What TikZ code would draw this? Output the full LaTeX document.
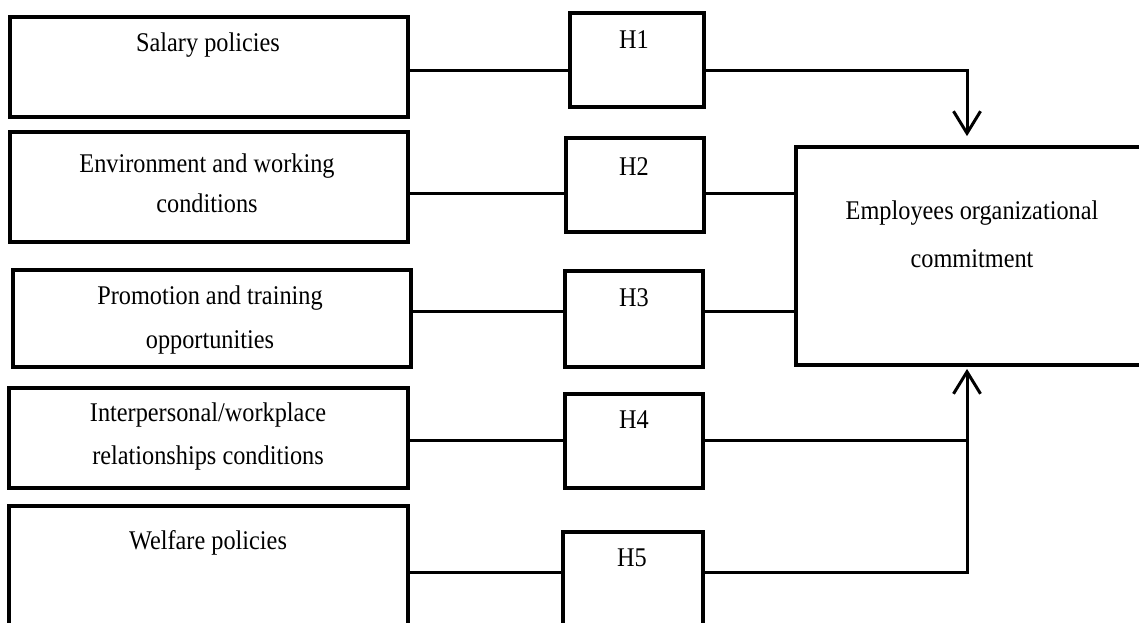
\documentclass[tikz,border=0pt]{standalone}
\usepackage{fontspec}
\setmainfont{Liberation Serif}[FakeStretch=0.9]
\usepackage{tikz}
\usetikzlibrary{arrows.meta}
\tikzset{
	box/.style={draw, line width=3.8pt, inner sep=0pt},
	txt/.style={align=center, inner sep=0pt, font=\fontsize{27}{43}\selectfont},
	wire/.style={line width=3pt},
	barb/.style={-{Straight Barb[length=22pt, width=27pt]}}
}

\begin{document}
\begin{tikzpicture}[x=1pt, y=-1pt]
			%%%%% START %%%%%
			
			\clip (0, 0) rectangle (1139, 622);
			
			\coordinate (y1) at (0, 70);
			\coordinate (y2) at (0, 193);
			\coordinate (y3) at (0, 311);
			\coordinate (y4) at (0, 440);
			\coordinate (y5) at (0, 572);
			\coordinate (bus) at (967, 0);
			
			\node[box, minimum width=398, minimum height=100] (sal) at (209, 67) {};
			\node[txt] (sal-t) at (208, 45) {Salary policies};
			
			\node[box, minimum width=398, minimum height=110] (env) at (209, 187) {};
			\node[txt, font=\fontsize{27}{40}\selectfont] (env-t) at (207, 183) {Environment and working\\conditions};
			
			\node[box, minimum width=398, minimum height=97] (pro) at (212, 318.5) {};
			\node[txt, font=\fontsize{27}{44}\selectfont] (pro-t) at (210, 320) {Promotion and training\\opportunities};
			
			\node[box, minimum width=399, minimum height=100] (rel) at (208.5, 438) {};
			\node[txt] (rel-t) at (208, 436.5) {Interpersonal/workplace\\relationships conditions};
			
			\node[box, minimum width=399, minimum height=160] (wel) at (208.5, 586) {};
			\node[txt] (wel-t) at (208, 543) {Welfare policies};
			
			% hypothesis boxes
			\node[box, minimum width=134, minimum height=94] (h1) at (637, 60) {};
			\node[txt] (h1-t) at (634, 40) {H1};
			\node[box, minimum width=138, minimum height=94] (h2) at (635, 185) {};
			\node[txt] (h2-t) at (634, 167) {H2};
			\node[box, minimum width=138, minimum height=96] (h3) at (634, 319) {};
			\node[txt] (h3-t) at (634, 298) {H3};
			\node[box, minimum width=138, minimum height=94] (h4) at (634, 441) {};
			\node[txt] (h4-t) at (634, 420) {H4};
			\node[box, minimum width=140, minimum height=140] (h5) at (633, 602) {};
			\node[txt] (h5-t) at (632, 558) {H5};
			
			\node[box, minimum width=354, minimum height=218] (emp) at (973, 256) {};
			\node[txt, font=\fontsize{27}{48}\selectfont] (emp-t) at (972, 234) {Employees organizational\\commitment};
			
			% connectors
			\draw[wire] (sal.east |- y1) -- (h1.west |- y1);
			\draw[wire] (env.east |- y2) -- (h2.west |- y2);
			\draw[wire] (pro.east |- y3) -- (h3.west |- y3);
			\draw[wire] (rel.east |- y4) -- (h4.west |- y4);
			\draw[wire] (wel.east |- y5) -- (h5.west |- y5);
			
			\draw[wire, barb, shorten >=9pt] (h1.east |- y1) -| (bus |- emp.north);
			\draw[wire] (h2.east |- y2) -- (emp.west |- y2);
			\draw[wire] (h3.east |- y3) -- (emp.west |- y3);
			\draw[wire] (h4.east |- y4) -- (bus |- y4);
			\draw[wire, barb, shorten >=2pt] (h5.east |- y5) -| (bus |- emp.south);
			
			%%%%% END %%%%%
		\end{tikzpicture}
\end{document}
